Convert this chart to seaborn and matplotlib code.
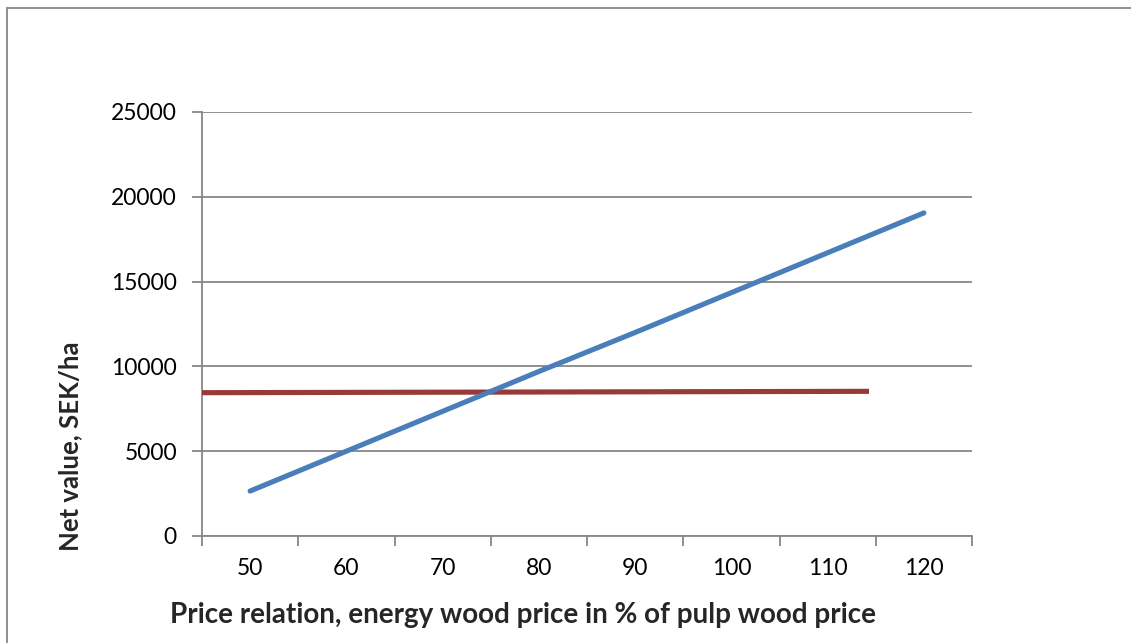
import matplotlib
matplotlib.use("Agg")
import matplotlib.pyplot as plt
from matplotlib.lines import Line2D
import seaborn as sns
import pandas as pd

# Price relation categories (% of pulp wood price)
price_relation = [50, 60, 70, 80, 90, 100, 110, 120]
# Net value of energy wood harvest, SEK/ha
energy_wood_value = [2650, 5000, 7350, 9700, 12000, 14350, 16700, 19050]
# Reference net value (conventional alternative), SEK/ha
reference_x = [45, 114.3]
reference_value = [8450, 8530]

y_ticks = [0, 5000, 10000, 15000, 20000, 25000]

sns.set_style("white")
plt.rcParams["font.family"] = ["Lato", "DejaVu Sans"]

GRAY = "#878787"
BLUE = "#4A7EBB"
RED = "#983A37"

fig = plt.figure(figsize=(11.31, 6.43), dpi=100)
ax = fig.add_axes([202 / 1131, 1 - 536 / 643, 770 / 1131, 424 / 643])

df_blue = pd.DataFrame({"x": price_relation, "y": energy_wood_value})
df_red = pd.DataFrame({"x": reference_x, "y": reference_value})

sns.lineplot(data=df_red, x="x", y="y", ax=ax, color=RED, lw=3.7,
             solid_capstyle="butt", zorder=3)
sns.lineplot(data=df_blue, x="x", y="y", ax=ax, color=BLUE, lw=3.7,
             solid_capstyle="round", zorder=4)

ax.set_xlim(45, 125)
ax.set_ylim(0, 25000)

# Category labels sit between boundary tick marks
ax.set_xticks(price_relation)
ax.set_xticklabels([str(v) for v in price_relation])
ax.set_xticks([45 + 10 * i for i in range(9)], minor=True)
ax.tick_params(axis="x", which="major", length=0, pad=16, labelsize=16.5,
               labelcolor="black")
ax.tick_params(axis="x", which="minor", length=7, width=1.3, color=GRAY,
               direction="out", bottom=True)

ax.set_yticks(y_ticks)
ax.set_yticklabels([str(v) for v in y_ticks])
ax.tick_params(axis="y", which="major", length=7, width=1.3, color=GRAY,
               direction="out", left=True, pad=11, labelsize=16.5,
               labelcolor="black")

ax.yaxis.grid(True, color=GRAY, lw=1.3)
ax.xaxis.grid(False)
ax.set_axisbelow(True)

for side in ("top", "right"):
    ax.spines[side].set_visible(False)
for side in ("left", "bottom"):
    ax.spines[side].set_color(GRAY)
    ax.spines[side].set_linewidth(1.3)

ax.set_xlabel("")
ax.set_ylabel("")

fig.text(523 / 1131, 1 - 615 / 643,
         "Price relation, energy wood price in % of pulp wood price",
         ha="center", va="center", fontsize=20, fontweight="bold")
fig.text(70 / 1131, 1 - 446 / 643, "Net value, SEK/ha", rotation=90,
         ha="center", va="center", fontsize=18.5, fontweight="bold")

# Chart area frame
fig.add_artist(Line2D([7 / 1131, 7 / 1131], [0, 1 - 8 / 643],
                      transform=fig.transFigure, color=GRAY, lw=1.3))
fig.add_artist(Line2D([7 / 1131, 1], [1 - 8 / 643, 1 - 8 / 643],
                      transform=fig.transFigure, color=GRAY, lw=1.3))

fig.savefig("out.png", dpi=100, facecolor="white")
